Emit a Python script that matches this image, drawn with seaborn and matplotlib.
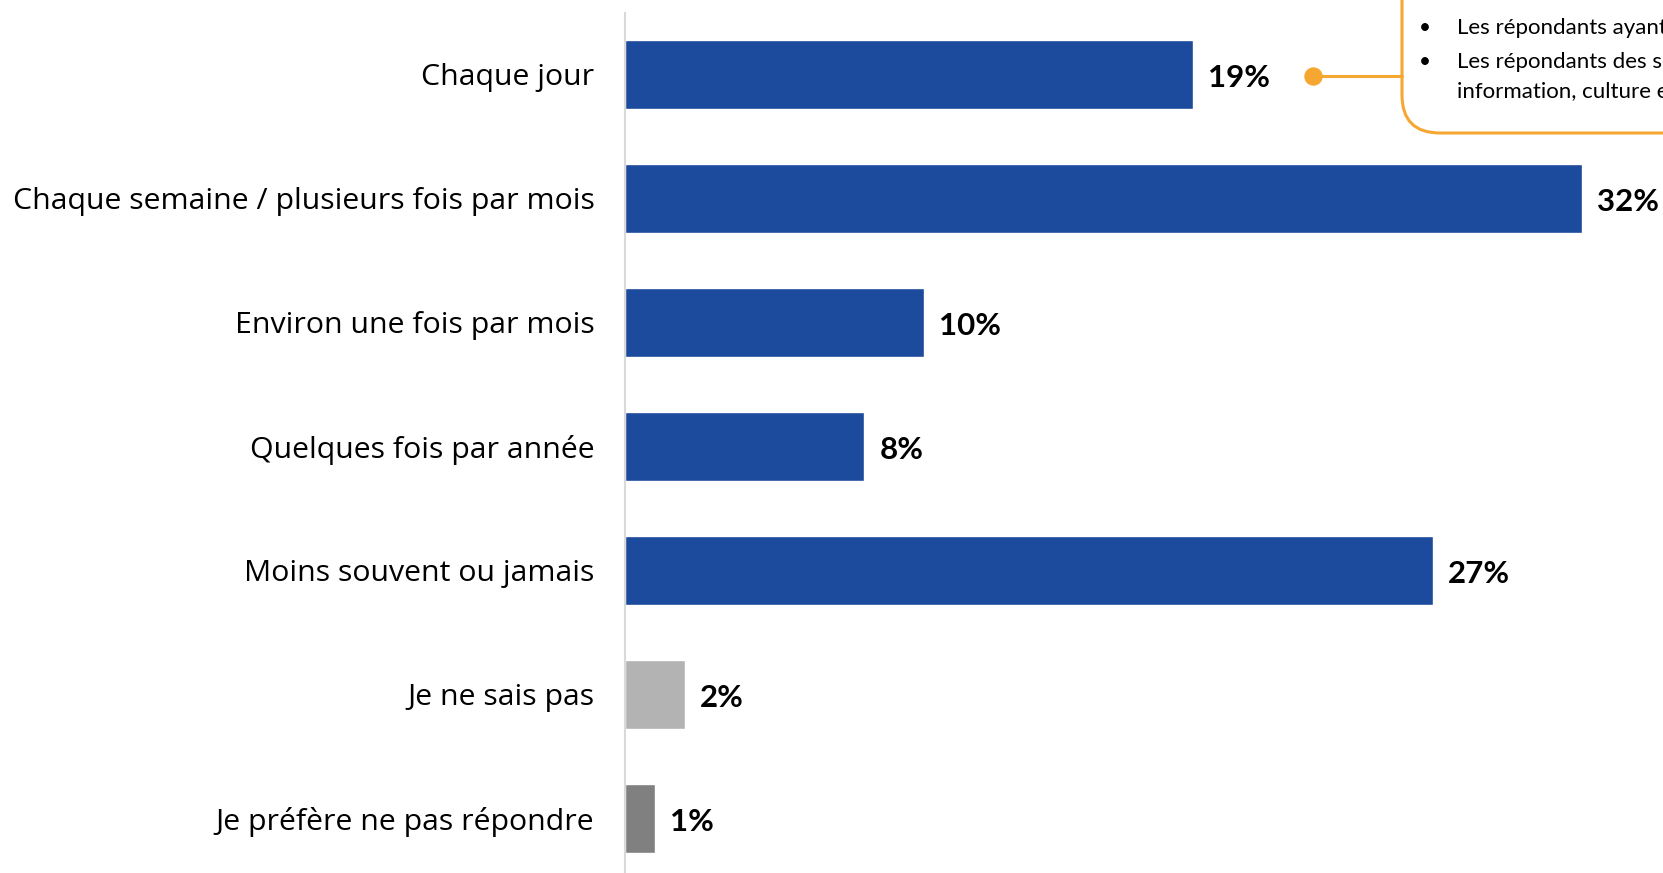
import matplotlib
matplotlib.use("Agg")
import matplotlib.pyplot as plt
import seaborn as sns
import pandas as pd
from matplotlib.patches import FancyBboxPatch

# Survey answers and shares (%)
categories = [
    "Chaque jour",
    "Chaque semaine / plusieurs fois par mois",
    "Environ une fois par mois",
    "Quelques fois par année",
    "Moins souvent ou jamais",
    "Je ne sais pas",
    "Je préfère ne pas répondre",
]
values = [19, 32, 10, 8, 27, 2, 1]
value_labels = ["19%", "32%", "10%", "8%", "27%", "2%", "1%"]
bar_colors = ["#1C4A9C"] * 5 + ["#B3B3B3", "#808080"]

callout_lines = [
    ("•", "Les plus susceptibles de le faire (", -10),
    ("•", "Les répondants ayant", 28),
    ("•", "Les répondants des secteurs", 62),
    ("", "information, culture et loisirs", 91),
]

sns.set_theme(style="white")
plt.rcParams["font.family"] = ["Lato", "DejaVu Sans"]

W, H = 1663, 873
fig = plt.figure(figsize=(W / 100, H / 100), dpi=100)
fig.patch.set_facecolor("white")

# Bar axes: left edge at the category axis line
ax = fig.add_axes([625 / W, 0, (W - 625) / W, (H - 13) / H])
df = pd.DataFrame({"cat": categories, "val": values})
sns.barplot(data=df, x="val", y="cat", hue="cat", palette=bar_colors,
            width=0.56, legend=False, ax=ax, saturation=1)
ax.set_xlim(0, 34.7)
ax.set_ylim(6.44, -0.496)
ax.set_xlabel("")
ax.set_ylabel("")
ax.set_xticks([])
ax.tick_params(axis="y", length=0, pad=22, labelsize=21.8, labelcolor="black")
for lab in ax.get_yticklabels():
    lab.set_fontfamily(["Open Sans", "DejaVu Sans"])
for s in ["top", "right", "bottom"]:
    ax.spines[s].set_visible(False)
ax.spines["left"].set_color("#D9D9D9")
ax.spines["left"].set_linewidth(1.5)

for i, (v, lab) in enumerate(zip(values, value_labels)):
    ax.text(v + 0.5, i + 0.03, lab, va="center", ha="left",
            fontsize=22.5, fontweight="bold", color="black")

# Callout overlay in pixel coordinates
ov = fig.add_axes([0, 0, 1, 1], zorder=5)
ov.set_xlim(0, W)
ov.set_ylim(H, 0)
ov.axis("off")
ov.patch.set_alpha(0)

box = FancyBboxPatch((1402, -200), 500, 333,
                     boxstyle="round,pad=0,rounding_size=38",
                     facecolor="white", edgecolor="#F5A731", linewidth=2.2)
ov.add_patch(box)
ov.plot([1313, 1402], [76, 76], color="#F5A731", linewidth=2.2)
ov.scatter([1313], [76], s=150, color="#F5A731", zorder=6)

for bullet, txt, y in callout_lines:
    if bullet:
        ov.text(1419, y, bullet, ha="left", va="center", fontsize=15, color="black")
    ov.text(1457, y, txt, ha="left", va="center", fontsize=16, color="black")

fig.savefig("out.png", dpi=100, facecolor="white")
